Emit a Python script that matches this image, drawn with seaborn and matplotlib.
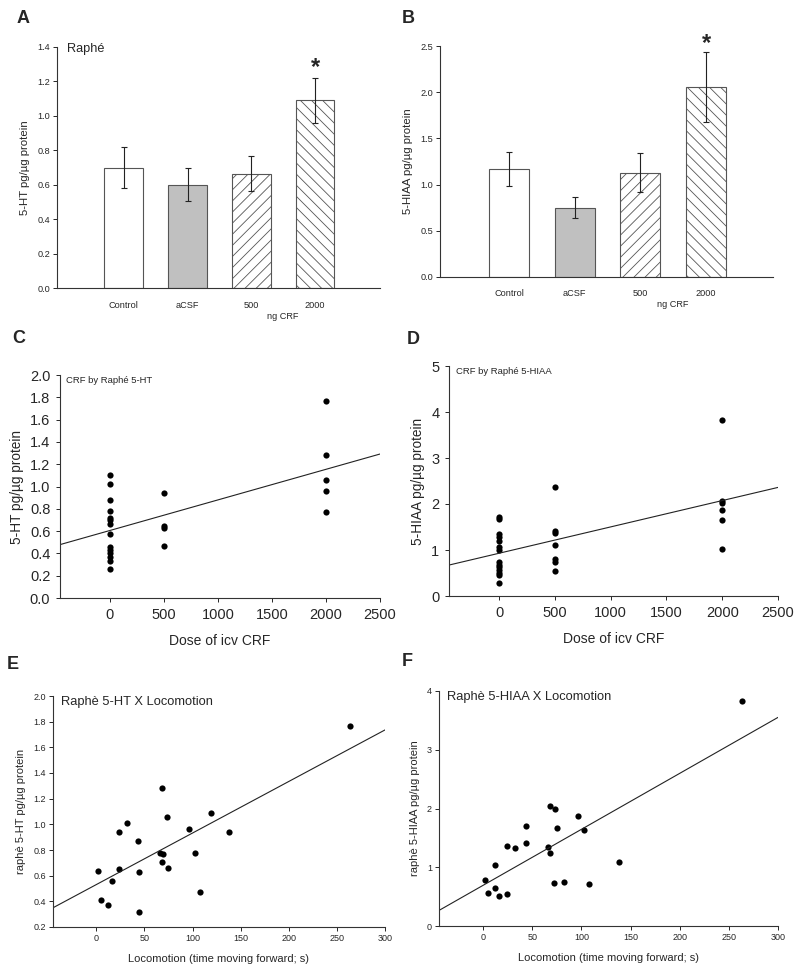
import numpy as np
import pandas as pd
import matplotlib
matplotlib.use("Agg")
from matplotlib import pyplot as plt
import seaborn as sns

# bar data (A, B)
groups = ["Control", "aCSF", "500", "2000"]
ht_mean = [0.70, 0.60, 0.665, 1.09]
ht_sem = [0.12, 0.095, 0.10, 0.13]
hiaa_mean = [1.17, 0.75, 1.13, 2.06]
hiaa_sem = [0.18, 0.115, 0.21, 0.38]

# dose scatter (C, D)
dose_c = [0]*14 + [500]*4 + [2000]*5
ht_c = [1.10, 1.02, 0.88, 0.78, 0.72, 0.70, 0.66, 0.57, 0.46, 0.43, 0.40, 0.37, 0.33, 0.26,
        0.94, 0.65, 0.63, 0.47,
        1.77, 1.28, 1.06, 0.96, 0.77]
dose_d = [0]*14 + [500]*7 + [2000]*6
hiaa_d = [1.71, 1.67, 1.35, 1.28, 1.20, 1.06, 1.00, 0.75, 0.68, 0.62, 0.56, 0.50, 0.46, 0.28,
          2.38, 1.42, 1.38, 1.10, 0.80, 0.75, 0.55,
          3.83, 2.06, 2.03, 1.88, 1.65, 1.03]

# locomotion scatter (E, F)
loco_e = [264, 68, 73, 119, 32, 24, 96, 138, 43, 66, 69, 103, 68, 24, 75, 2, 44, 16, 108, 5, 12, 44]
ht_e = [1.77, 1.28, 1.06, 1.09, 1.01, 0.94, 0.96, 0.94, 0.87, 0.78, 0.77, 0.78, 0.71, 0.65, 0.66,
        0.64, 0.63, 0.56, 0.47, 0.41, 0.37, 0.32]
loco_f = [263, 68, 73, 96, 44, 75, 103, 24, 32, 44, 66, 68, 12, 138, 2, 12, 5, 16, 24, 72, 82, 108]
hiaa_f = [3.83, 2.05, 2.00, 1.88, 1.71, 1.67, 1.63, 1.37, 1.32, 1.41, 1.35, 1.24, 1.04, 1.09,
          0.79, 0.65, 0.57, 0.51, 0.54, 0.73, 0.75, 0.72]

sns.set_style("ticks")
plt.rcParams['font.family'] = ['Liberation Sans', 'DejaVu Sans']
plt.rcParams['hatch.linewidth'] = 0.6
plt.rcParams['hatch.color'] = '#333333'
plt.rcParams['axes.linewidth'] = 0.8
plt.rcParams['axes.edgecolor'] = '#333333'

fig = plt.figure(figsize=(8, 9.74), dpi=100)
W, H = 800, 974


def box(l, t, r, b):
    return [l / W, 1 - b / H, (r - l) / W, (b - t) / H]


def bars(ax, means, sems, ylim, step, ylabel, star_y, title=None):
    df = pd.DataFrame({"group": groups, "val": means})
    sns.barplot(data=df, x="group", y="val", hue="group", legend=False, ax=ax,
                palette=["white", "#c0c0c0", "white", "white"], width=0.61,
                edgecolor="#555555", linewidth=0.8, errorbar=None)
    for p, h in zip(ax.patches, ["", "", "///", "\\\\\\"]):
        p.set_hatch(h)
    ax.errorbar(range(4), means, yerr=sems, fmt="none", ecolor="#222222",
                elinewidth=0.8, capsize=2.5, capthick=0.8)
    ax.text(3, star_y, "*", ha="center", va="center", fontsize=17, fontweight="bold")
    ax.set_xlim(-1.05, 4.02)
    ax.set_ylim(*ylim)
    ax.set_yticks(np.arange(ylim[0], ylim[1] + 1e-9, step))
    ax.yaxis.set_major_formatter(matplotlib.ticker.FormatStrFormatter("%.1f"))
    ax.tick_params(axis="x", length=0, labelsize=6.6, pad=9)
    ax.tick_params(axis="y", length=3, width=0.7, labelsize=6.6, pad=2)
    ax.set_xlabel("")
    ax.set_ylabel(ylabel, fontsize=8.2, labelpad=5)
    ax.text(2.5, -0.12, "ng CRF", transform=ax.get_xaxis_transform(),
            ha="center", va="center", fontsize=6.6)
    if title:
        ax.text(0.03, 0.99, title, transform=ax.transAxes, ha="left", va="center", fontsize=9.2)
    sns.despine(ax=ax)


def dots(ax, x, y, xlim, ylim, yticks, fmt, ylabel, xlabel, title, big):
    ax.set_xlim(*xlim)
    sns.regplot(x=np.array(x), y=np.array(y), ax=ax, ci=None, truncate=False,
                color="black", scatter_kws={"s": 20, "linewidths": 0, "alpha": 1},
                line_kws={"lw": 0.8, "color": "#222222"})
    ax.set_xlim(*xlim)
    ax.set_ylim(*ylim)
    ax.set_yticks(yticks)
    ax.yaxis.set_major_formatter(matplotlib.ticker.FormatStrFormatter(fmt))
    ts = 10.5 if big else 6.5
    ax.tick_params(axis="both", length=3, width=0.7, labelsize=ts, pad=2 if not big else 4)
    ax.set_ylabel(ylabel, fontsize=9.8 if big else 8, labelpad=4 if big else 5)
    ax.set_xlabel(xlabel, fontsize=10 if big else 8, labelpad=9 if big else 8)
    ax.text(0.02 if big else 0.025, 0.975, title, transform=ax.transAxes,
            ha="left", va="center", fontsize=6.8 if big else 9.3)
    sns.despine(ax=ax)


axA = fig.add_axes(box(57, 47, 380, 288))
bars(axA, ht_mean, ht_sem, (0, 1.4), 0.2, "5-HT pg/\u00b5g protein", 1.28, "Raph\u00e9")
axB = fig.add_axes(box(440, 46, 773, 277))
bars(axB, hiaa_mean, hiaa_sem, (0, 2.5), 0.5, "5-HIAA pg/\u00b5g protein", 2.53)

axC = fig.add_axes(box(60, 375, 380, 598))
dots(axC, dose_c, ht_c, (-460, 2500), (0, 2.0), np.arange(0, 2.01, 0.2), "%.1f",
     "5-HT pg/\u00b5g protein", "Dose of icv CRF", "CRF by Raph\u00e9 5-HT", True)
axC.set_xticks([0, 500, 1000, 1500, 2000, 2500])
axD = fig.add_axes(box(449, 366, 778, 596))
dots(axD, dose_d, hiaa_d, (-450, 2500), (0, 5), np.arange(0, 6, 1), "%d",
     "5-HIAA pg/\u00b5g protein", "Dose of icv CRF", "CRF by Raph\u00e9 5-HIAA", True)
axD.set_xticks([0, 500, 1000, 1500, 2000, 2500])

axE = fig.add_axes(box(53, 696, 385, 927))
dots(axE, loco_e, ht_e, (-45, 300), (0.2, 2.0), np.arange(0.2, 2.01, 0.2), "%.1f",
     "raph\u00e8 5-HT pg/\u00b5g protein", "Locomotion (time moving forward; s)",
     "Raph\u00e8 5-HT X Locomotion", False)
axE.set_xticks(np.arange(0, 301, 50))
axF = fig.add_axes(box(439, 691, 778, 926))
dots(axF, loco_f, hiaa_f, (-45, 300), (0, 4), np.arange(0, 5, 1), "%d",
     "raph\u00e8 5-HIAA pg/\u00b5g protein", "Locomotion (time moving forward; s)",
     "Raph\u00e8 5-HIAA X Locomotion", False)
axF.set_xticks(np.arange(0, 301, 50))

for lab, x, y in [("A", 17, 10), ("B", 402, 10), ("C", 12, 330), ("D", 407, 331),
                  ("E", 7, 656), ("F", 402, 653)]:
    fig.text(x / W, 1 - y / H, lab, ha="left", va="top", fontsize=13, fontweight="bold")

fig.savefig("out.png", dpi=100)
